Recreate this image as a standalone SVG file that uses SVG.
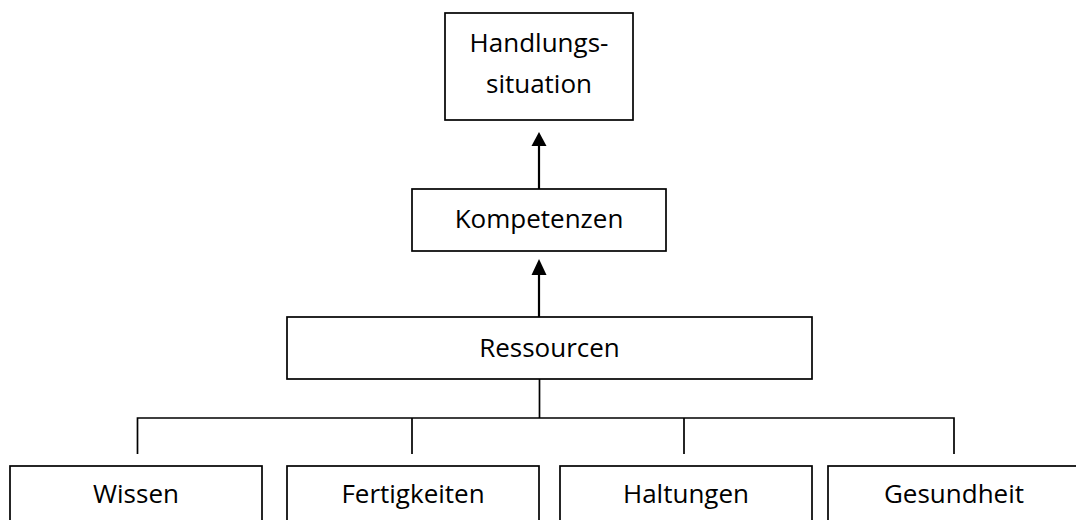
<svg xmlns="http://www.w3.org/2000/svg" width="1076" height="520" viewBox="0 0 1076 520">
<style>
.box{fill:#fff;stroke:#000;stroke-width:1.7}
.lbl{font-family:"Open Sans","Liberation Sans",sans-serif;font-size:26px;fill:#000;text-anchor:middle}
.tree{fill:none;stroke:#000;stroke-width:1.7}
.arr{fill:none;stroke:#000;stroke-width:2.2}
.head{fill:#000}
</style>
<rect width="1076" height="520" fill="#fff"/>
<g id="connectors">
<line class="arr" x1="539" y1="189" x2="539" y2="145"/>
<path class="head" d="M531.5,146 L539,132 L546.5,146 Z"/>
<line class="arr" x1="539" y1="318" x2="539" y2="274"/>
<path class="head" d="M531.5,275 L539,259 L546.5,275 Z"/>
<path class="tree" d="M539.5,379 V418 M137.5,454 V418 H954 V454 M412,418 V454 M684,418 V454"/>
</g>
<g id="handlungssituation">
<rect class="box" x="445" y="13" width="188" height="107"/>
<text class="lbl" x="539" y="52">Handlungs-</text>
<text class="lbl" x="539" y="93">situation</text>
</g>
<g id="kompetenzen">
<rect class="box" x="412" y="189" width="254" height="62"/>
<text class="lbl" x="539" y="228">Kompetenzen</text>
</g>
<g id="ressourcen">
<rect class="box" x="287" y="317" width="525" height="62"/>
<text class="lbl" x="549.5" y="357">Ressourcen</text>
</g>
<g id="wissen">
<rect class="box" x="10" y="466" width="252" height="70"/>
<text class="lbl" x="136" y="503">Wissen</text>
</g>
<g id="fertigkeiten">
<rect class="box" x="287" y="466" width="252" height="70"/>
<text class="lbl" x="413" y="503">Fertigkeiten</text>
</g>
<g id="haltungen">
<rect class="box" x="560" y="466" width="252" height="70"/>
<text class="lbl" x="686" y="503">Haltungen</text>
</g>
<g id="gesundheit">
<rect class="box" x="828" y="466" width="252" height="70"/>
<text class="lbl" x="954" y="503">Gesundheit</text>
</g>
</svg>
